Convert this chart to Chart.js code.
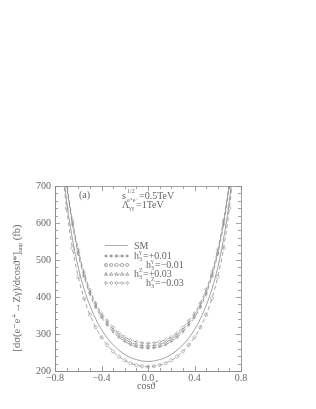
<!DOCTYPE html>
<html>
<head>
<meta charset="utf-8">
<script src="https://cdn.jsdelivr.net/npm/chart.js@4/dist/chart.umd.min.js"></script>
<style>
  html, body { margin: 0; padding: 0; background: #fff; }
  canvas { display: block; }
</style>
</head>
<body>
<canvas id="graf" width="316" height="409"></canvas>
<script>
// cos(theta*) sampling points
var cosTheta = [-0.75,-0.70,-0.65,-0.60,-0.55,-0.50,-0.45,-0.40,-0.35,-0.30,-0.25,-0.20,-0.15,-0.10,-0.05,
                 0.00, 0.05, 0.10, 0.15, 0.20, 0.25, 0.30, 0.35, 0.40, 0.45, 0.50, 0.55, 0.60, 0.65, 0.70, 0.75];

var smVals   = [807,660,557,480,422,377,341,312,289,271,256,245,236,231,227,
                226,227,231,236,245,256,271,289,312,341,377,422,480,557,660,807];
var hgPlus   = [840,700,596,516,455,408,372,345,324,306,291,280,271,266,263,
                262,263,266,271,280,291,306,324,345,372,408,455,516,596,700,840];
var hgMinus  = [790,640,532,455,396,352,318,291,270,253,239,229,221,216,213,
                212,213,216,221,229,239,253,270,291,318,352,396,455,532,640,790];
var hzPlus   = [845,706,602,522,461,414,378,351,330,312,297,286,277,272,269,
                268,269,272,277,286,297,312,330,351,378,414,461,522,602,706,845];
var hzMinus  = [850,712,608,528,467,420,384,356,336,318,303,292,284,279,276,
                275,276,279,284,292,303,318,336,356,384,420,467,528,608,712,850];

var xTicks = [-0.8, -0.4, 0.0, 0.4, 0.8];
var yTicks = [200, 300, 400, 500, 600, 700];

var grigio = '#8a8a8a';
var testo = '#666';
var serif = '"Liberation Serif", "DejaVu Serif", serif';

function punti(vals) {
  return cosTheta.map(function(c, i){ return {x: c, y: vals[i]}; });
}

function serie(label, vals, stile) {
  return {
    label: label,
    data: punti(vals),
    borderColor: grigio,
    borderWidth: 0.8,
    borderDash: [4, 3],
    pointStyle: stile,
    pointRadius: 1.6,
    pointBorderWidth: 0.6,
    pointBorderColor: '#999',
    pointBackgroundColor: 'rgba(255,255,255,0)',
    tension: 0.4,
    fill: false
  };
}

// frame and inward ticks on all four sides
var tacche = {
  id: 'tacche',
  afterDraw: function(chart) {
    var c = chart.ctx, a = chart.chartArea;
    var xs = chart.scales.x, ys = chart.scales.y;
    c.save();
    c.strokeStyle = grigio;
    c.lineWidth = 0.8;
    c.strokeRect(Math.round(a.left) + 0.5, Math.round(a.top) + 0.5,
                 Math.round(a.right - a.left), Math.round(a.bottom - a.top));
    c.beginPath();
    for (var i = 0; i <= 16; i++) {
      var v = -0.8 + i * 0.1;
      var px = Math.round(xs.getPixelForValue(v)) + 0.5;
      var l = (i % 4 === 0) ? 5 : 3;
      c.moveTo(px, a.bottom); c.lineTo(px, a.bottom - l);
      c.moveTo(px, a.top); c.lineTo(px, a.top + l);
    }
    for (var j = 0; j <= 25; j++) {
      var w = 200 + j * 20;
      var py = Math.round(ys.getPixelForValue(w)) + 0.5;
      var m = (j % 5 === 0) ? 5 : 3;
      c.moveTo(a.left, py); c.lineTo(a.left + m, py);
      c.moveTo(a.right, py); c.lineTo(a.right - m, py);
    }
    c.stroke();
    c.restore();
  }
};

function hSimbolo(c, x, y, sup, resto) {
  c.font = '10px ' + serif;
  c.fillText('h', x, y);
  var w = c.measureText('h').width;
  c.font = '6px ' + serif;
  c.fillText('3', x + w, y + 2);
  c.fillText(sup, x + w, y - 5);
  c.font = '10px ' + serif;
  c.fillText(resto, x + w + 4, y);
}

function marcatore(c, stile, x, y) {
  var r = 1.6;
  c.beginPath();
  if (stile === 'circle') {
    c.arc(x, y, r, 0, Math.PI * 2);
  } else if (stile === 'triangle') {
    c.moveTo(x, y - r); c.lineTo(x + r, y + r * 0.8); c.lineTo(x - r, y + r * 0.8); c.closePath();
  } else if (stile === 'rectRot') {
    c.moveTo(x, y - r); c.lineTo(x + r, y); c.lineTo(x, y + r); c.lineTo(x - r, y); c.closePath();
  } else {
    c.moveTo(x - r, y); c.lineTo(x + r, y);
    c.moveTo(x, y - r); c.lineTo(x, y + r);
    c.moveTo(x - r * 0.7, y - r * 0.7); c.lineTo(x + r * 0.7, y + r * 0.7);
    c.moveTo(x - r * 0.7, y + r * 0.7); c.lineTo(x + r * 0.7, y - r * 0.7);
  }
  c.stroke();
}

// texts, legend, axis titles
var scritte = {
  id: 'scritte',
  afterDraw: function(chart) {
    var c = chart.ctx;
    c.save();
    c.fillStyle = testo;
    c.strokeStyle = grigio;
    c.textBaseline = 'alphabetic';
    c.textAlign = 'left';

    c.font = '10px ' + serif;
    c.fillText('(a)', 79, 198);

    // s^{1/2}_{e+e-} = 0.5TeV
    c.fillText('s', 122, 199);
    c.font = '6px ' + serif;
    c.fillText('1/2', 127, 193);
    c.fillText('e\u207Ae\u207B', 127, 202);
    c.font = '10px ' + serif;
    c.fillText('=0.5TeV', 139, 199);
    c.fillText('\u039B', 122, 208);
    c.font = '6px ' + serif;
    c.fillText('\u03B3\u03B3', 129, 210);
    c.font = '10px ' + serif;
    c.fillText('=1TeV', 136, 208);

    // legend
    c.lineWidth = 0.7;
    c.beginPath();
    c.moveTo(105, 245.5); c.lineTo(128, 245.5);
    c.stroke();
    c.fillText('SM', 134, 249);

    var voci = [
      {y: 256, st: 'star',     x: 134, sup: '\u03B3', t: '=+0.01'},
      {y: 265, st: 'circle',   x: 146, sup: '\u03B3', t: '=\u22120.01'},
      {y: 274, st: 'triangle', x: 134, sup: 'Z', t: '=+0.03'},
      {y: 283, st: 'rectRot',  x: 146, sup: 'Z', t: '=\u22120.03'}
    ];
    voci.forEach(function(v) {
      c.setLineDash([1.5, 3]);
      c.beginPath(); c.moveTo(105, v.y); c.lineTo(128, v.y); c.stroke();
      c.setLineDash([]);
      for (var k = 0; k < 5; k++) marcatore(c, v.st, 106 + k * 5.3, v.y);
      hSimbolo(c, v.x, v.y + 3, v.sup, v.t);
    });

    // x title
    c.font = '10px ' + serif;
    c.fillText('cos\u03D1', 137, 389);
    var wx = c.measureText('cos\u03D1').width;
    c.font = '6px ' + serif;
    c.fillText('*', 137 + wx, 384);

    // y title (rotated), subscript drawn by hand
    c.translate(20, 288);
    c.rotate(-Math.PI / 2);
    var p1 = '[d\u03C3(e\u207Be\u207A\u2192Z\u03B3)/dcos\u03D1*]';
    var p2 = 'unp';
    var p3 = ' (fb)';
    c.font = '10.5px ' + serif;
    var w1 = c.measureText(p1).width, w3 = c.measureText(p3).width;
    c.font = '6px ' + serif;
    var w2 = c.measureText(p2).width;
    var x0 = -(w1 + w2 + w3) / 2;
    c.font = '10.5px ' + serif;
    c.fillText(p1, x0, 0);
    c.font = '6px ' + serif;
    c.fillText(p2, x0 + w1, 2);
    c.font = '10.5px ' + serif;
    c.fillText(p3, x0 + w1 + w2, 0);
    c.restore();
  }
};

var ctx = document.getElementById('graf');

var myChart = new Chart(ctx, {
  type: 'line',
  data: {
    datasets: [
      {
        label: 'SM',
        data: punti(smVals),
        borderColor: grigio,
        borderWidth: 0.8,
        pointRadius: 0,
        tension: 0.4,
        fill: false
      },
      serie('h3g=+0.01', hgPlus, 'star'),
      serie('h3g=-0.01', hgMinus, 'circle'),
      serie('h3Z=+0.03', hzPlus, 'triangle'),
      serie('h3Z=-0.03', hzMinus, 'rectRot')
    ]
  },
  options: {
    responsive: false,
    animation: false,
    layout: { padding: { left: 0, right: 75, top: 186, bottom: 0 } },
    plugins: { legend: { display: false }, tooltip: { enabled: false } },
    scales: {
      x: {
        type: 'linear',
        min: -0.8, max: 0.8,
        afterFit: function(s){ s.height = 38; },
        afterBuildTicks: function(s){ s.ticks = xTicks.map(function(v){ return {value: v}; }); },
        ticks: {
          color: testo,
          font: { family: serif, size: 10 },
          padding: 1,
          maxRotation: 0,
          callback: function(v){ return (v < 0 ? '\u2212' : '') + Math.abs(v).toFixed(1); }
        },
        grid: { drawOnChartArea: false, drawTicks: false },
        border: { display: true, color: grigio, width: 0.8 }
      },
      y: {
        min: 200, max: 700,
        afterFit: function(s){ s.width = 55; },
        afterBuildTicks: function(s){ s.ticks = yTicks.map(function(v){ return {value: v}; }); },
        ticks: {
          color: testo,
          font: { family: serif, size: 10 },
          padding: 4
        },
        grid: { drawOnChartArea: false, drawTicks: false },
        border: { display: true, color: grigio, width: 0.8 }
      }
    }
  },
  plugins: [tacche, scritte]
});
</script>
</body>
</html>
